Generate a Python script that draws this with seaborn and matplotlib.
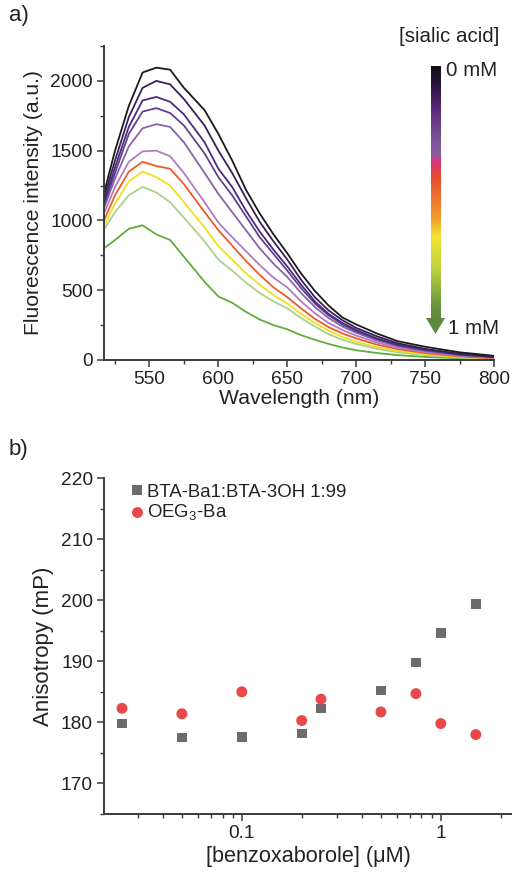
import numpy as np
import pandas as pd
import matplotlib
matplotlib.use("Agg")
import matplotlib.pyplot as plt
from matplotlib.colors import LinearSegmentedColormap
from matplotlib.patches import Polygon
from matplotlib.ticker import MultipleLocator, LogLocator, NullFormatter, FixedLocator, FixedFormatter
import seaborn as sns

# ---------------- data: panel a ----------------
wavelength = [517, 525, 535, 545, 555, 565, 575, 590, 600, 610, 620, 630, 640, 650,
              660, 670, 680, 690, 700, 715, 730, 750, 775, 800]
curve_0 = [1195, 1500, 1820, 2060, 2095, 2080, 1950, 1790, 1620, 1430, 1220, 1050, 900, 765,
           620, 495, 390, 305, 255, 190, 135, 95, 55, 30]
curve_1 = [1160, 1430, 1740, 1950, 2000, 1975, 1870, 1680, 1500, 1340, 1160, 990, 850, 720,
           575, 450, 355, 285, 230, 170, 120, 80, 45, 25]
curve_2 = [1130, 1380, 1670, 1860, 1885, 1850, 1760, 1560, 1370, 1240, 1070, 920, 790, 670,
           540, 420, 330, 265, 215, 155, 110, 75, 40, 22]
curve_3 = [1110, 1340, 1620, 1780, 1805, 1770, 1680, 1480, 1310, 1180, 1030, 880, 760, 640,
           515, 405, 320, 255, 205, 150, 105, 70, 38, 20]
curve_4 = [1090, 1300, 1530, 1660, 1690, 1670, 1560, 1340, 1190, 1060, 930, 800, 690, 595,
           480, 380, 300, 240, 195, 140, 100, 65, 35, 18]
curve_5 = [1050, 1240, 1420, 1495, 1500, 1460, 1340, 1130, 985, 880, 780, 680, 590, 520,
           420, 335, 265, 215, 175, 125, 88, 58, 30, 15]
curve_6 = [1000, 1180, 1350, 1420, 1390, 1370, 1260, 1060, 930, 820, 710, 610, 520, 450,
           370, 295, 235, 190, 155, 110, 78, 50, 25, 12]
curve_7 = [960, 1120, 1280, 1350, 1310, 1250, 1130, 950, 815, 720, 620, 540, 465, 405,
           330, 265, 210, 165, 130, 92, 65, 42, 20, 10]
curve_8 = [935, 1060, 1180, 1240, 1200, 1130, 1020, 850, 720, 640, 555, 480, 420, 370,
           300, 240, 185, 145, 115, 80, 55, 35, 18, 8]
curve_9 = [800, 860, 940, 965, 900, 860, 740, 560, 455, 410, 345, 290, 250, 220,
           178, 145, 115, 90, 70, 50, 35, 22, 12, 6]
curves = [curve_0, curve_1, curve_2, curve_3, curve_4, curve_5, curve_6, curve_7, curve_8, curve_9]
curve_names = ["c0", "c1", "c2", "c3", "c4", "c5", "c6", "c7", "c8", "c9"]
curve_colors = ["#1a1a1a", "#3a1f5c", "#4b2a80", "#62418f", "#8a62ab", "#b07cc0",
                "#f05a2a", "#efe020", "#a9d18e", "#5fae3a"]

# ---------------- data: panel b ----------------
conc = [0.025, 0.05, 0.1, 0.2, 0.25, 0.5, 0.75, 1.0, 1.5]
bta_aniso = [179.8, 177.5, 177.6, 178.2, 182.3, 185.2, 189.8, 194.6, 199.4]
oeg_aniso = [182.3, 181.4, 185.0, 180.3, 183.8, 181.7, 184.7, 179.8, 178.0]
series_labels = ["BTA-Ba1:BTA-3OH 1:99", "OEG$_3$-Ba"]

# ---------------- style ----------------
sns.set_theme(style="ticks")
plt.rcParams['font.family'] = ['Liberation Sans', 'DejaVu Sans']
plt.rcParams['mathtext.fontset'] = 'custom'
plt.rcParams['mathtext.rm'] = 'Liberation Sans'
spine_c = "#3a3a3a"
TICK_FS = 13.8
LAB_FS = 15.2
TXT = "#222222"

W, H = 512, 873
fig = plt.figure(figsize=(W / 100, H / 100), dpi=100)

def ax_rect(l, t, r, b):
    return [l / W, 1 - b / H, (r - l) / W, (b - t) / H]

def style_axes(ax):
    for s in ["top", "right"]:
        ax.spines[s].set_visible(False)
    for s in ["left", "bottom"]:
        ax.spines[s].set_color(spine_c)
        ax.spines[s].set_linewidth(1.4)
    ax.tick_params(which="major", direction="out", length=5, width=1.1, color=spine_c,
                   labelsize=TICK_FS, labelcolor=TXT, pad=3)
    ax.tick_params(which="minor", direction="out", length=3, width=1.0, color=spine_c)

# ---------------- panel a ----------------
ax1 = fig.add_axes(ax_rect(104, 46, 494, 360))
df_a = pd.DataFrame({
    "Wavelength": wavelength * len(curves),
    "Intensity": [v for c in curves for v in c],
    "curve": [n for n, c in zip(curve_names, curves) for _ in c],
})
sns.lineplot(data=df_a, x="Wavelength", y="Intensity", hue="curve",
             hue_order=curve_names[::-1], palette=dict(zip(curve_names, curve_colors)),
             linewidth=1.3, legend=False, ax=ax1, sort=True)
ax1.set_xlim(517, 800)
ax1.set_ylim(0, 2250)
ax1.xaxis.set_major_locator(FixedLocator([550, 600, 650, 700, 750, 800]))
ax1.xaxis.set_minor_locator(FixedLocator([525, 575, 625, 675, 725, 775]))
ax1.yaxis.set_major_locator(FixedLocator([0, 500, 1000, 1500, 2000]))
ax1.yaxis.set_minor_locator(FixedLocator([250, 750, 1250, 1750, 2250]))
style_axes(ax1)
ax1.set_xlabel("Wavelength (nm)", fontsize=LAB_FS, color=TXT, labelpad=1)
ax1.set_ylabel("Fluorescence intensity (a.u.)", fontsize=LAB_FS, color=TXT, labelpad=5)

# ---------------- panel b ----------------
ax2 = fig.add_axes(ax_rect(104, 478, 512, 814))
df_b = pd.DataFrame({
    "conc": conc + conc,
    "aniso": bta_aniso + oeg_aniso,
    "series": [series_labels[0]] * len(conc) + [series_labels[1]] * len(conc),
})
sns.scatterplot(data=df_b, x="conc", y="aniso", hue="series", style="series", size="series",
                markers={series_labels[0]: "s", series_labels[1]: "o"},
                palette={series_labels[0]: "#6b6b6b", series_labels[1]: "#e84848"},
                sizes={series_labels[0]: 48, series_labels[1]: 62},
                linewidth=0, ax=ax2, legend=True)
ax2.set_xscale("log")
ax2.set_xlim(0.0203, 2.28)
ax2.set_ylim(165, 220)
ax2.xaxis.set_major_locator(FixedLocator([0.1, 1]))
ax2.xaxis.set_major_formatter(FixedFormatter(["0.1", "1"]))
ax2.xaxis.set_minor_locator(LogLocator(base=10, subs=np.arange(2, 10), numticks=20))
ax2.xaxis.set_minor_formatter(NullFormatter())
ax2.yaxis.set_major_locator(MultipleLocator(10))
ax2.yaxis.set_minor_locator(MultipleLocator(5))
style_axes(ax2)
ax2.set_xlabel("[benzoxaborole] (μM)", fontsize=15.6, color=TXT, labelpad=3)
ax2.set_ylabel("Anisotropy (mP)", fontsize=16, color=TXT, labelpad=5)
leg = ax2.legend(loc="upper left", bbox_to_anchor=(0.04, 1.005), frameon=False,
                 fontsize=13.4, handletextpad=0.05, labelspacing=0.12, markerscale=1.0,
                 borderaxespad=0, handlelength=1.0)
for t in leg.get_texts():
    t.set_color(TXT)

# ---------------- overlay: labels and gradient arrow ----------------
ov = fig.add_axes([0, 0, 1, 1])
ov.set_xlim(0, W)
ov.set_ylim(H, 0)
ov.axis("off")
ov.patch.set_alpha(0)

grad_cmap = LinearSegmentedColormap.from_list("sialic", [
    (0.00, "#111111"), (0.08, "#2b1640"), (0.17, "#5a2a7a"), (0.28, "#7a4f96"),
    (0.35, "#8b5f9d"), (0.38, "#e0357a"), (0.44, "#e84a30"), (0.60, "#f39a2a"),
    (0.68, "#f3e535"), (0.81, "#bcd23e"), (0.94, "#6f9a42"), (1.00, "#5d8a3e")])
grad = np.linspace(0, 1, 256).reshape(-1, 1)
ov.imshow(grad, cmap=grad_cmap, aspect="auto", extent=(430.5, 440.5, 318, 66.5),
          interpolation="bilinear")
ov.add_patch(Polygon([(426, 318), (445, 318), (435.5, 334)], closed=True,
                     facecolor="#5d8a3e", edgecolor="none"))
ov.text(499, 36, "[sialic acid]", fontsize=14.8, ha="right", va="center", color=TXT)
ov.text(446, 70, "0 mM", fontsize=14.8, ha="left", va="center", color=TXT)
ov.text(448, 328, "1 mM", fontsize=14.8, ha="left", va="center", color=TXT)
ov.text(9, 16, "a)", fontsize=16, ha="left", va="center", color=TXT)
ov.text(9, 450, "b)", fontsize=16, ha="left", va="center", color=TXT)

fig.savefig("out.png", dpi=100)
